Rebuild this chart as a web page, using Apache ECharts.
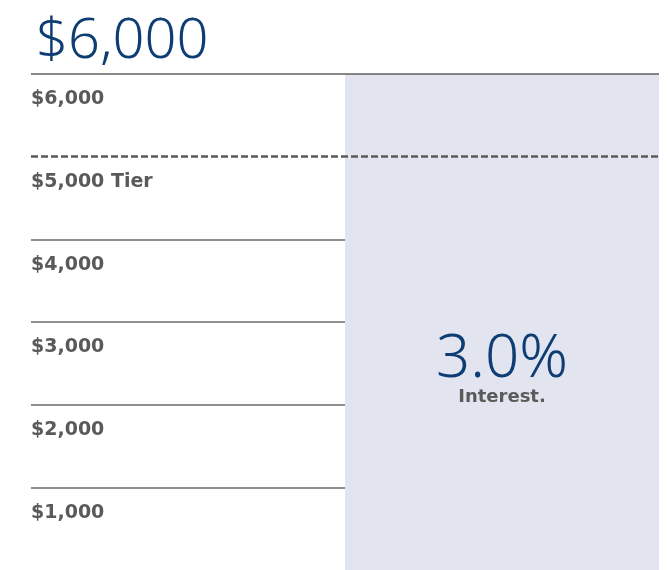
<!DOCTYPE html>
<html>
<head>
<meta charset="utf-8">
<script src="https://cdn.jsdelivr.net/npm/echarts@6/dist/echarts.min.js"></script>
<style>html,body{margin:0;padding:0;background:#fff}#c{width:668px;height:570px}</style>
</head>
<body>
<div id="c"></div>
<script>
const headline = '$6,000';
const categories = ['', 'Tier'];
const balances = ['-', 6000];
const tierValue = 5000;
const topValue = 6000;
const tickValues = [1000, 2000, 3000, 4000, 5000, 6000];
const tickLabels = ['$1,000', '$2,000', '$3,000', '$4,000', '$5,000 Tier', '$6,000'];
const rateText = '3.0%';
const rateCaption = 'Interest.';

const blue = '#0e3d74';
const gray = '#5a5a5a';

const chart = echarts.init(document.getElementById('c'), null, {renderer: 'canvas'});
chart.setOption({
  animation: false,
  title: {
    text: headline,
    left: 31, top: 9,
    textStyle: {fontFamily: 'Noto Sans', fontWeight: 300, fontSize: 56, color: blue}
  },
  grid: {left: 31, right: 9, top: 74, height: 499, containLabel: false},
  xAxis: {
    type: 'category', data: categories, show: false, boundaryGap: true
  },
  yAxis: {
    type: 'value', min: 0, max: 6000, interval: 1000,
    axisLine: {show: false}, axisTick: {show: false},
    axisLabel: {
      inside: true, margin: 0, verticalAlign: 'top', lineHeight: 17,
      fontFamily: 'DejaVu Sans', fontWeight: 'bold', fontSize: 19, color: gray,
      formatter: v => { const i = tickValues.indexOf(v); return i >= 0 ? '\n' + tickLabels[i] : ''; }
    },
    splitLine: {
      show: true,
      lineStyle: {width: 1.5, color: ['rgba(0,0,0,0)', '#6a6a6a', '#6a6a6a', '#6a6a6a', '#6a6a6a', 'rgba(0,0,0,0)', 'rgba(0,0,0,0)']}
    }
  },
  series: [{
    type: 'bar',
    data: balances,
    barWidth: '100%',
    barCategoryGap: '0%',
    itemStyle: {color: '#e2e5ef'},
    label: {
      show: true, position: 'inside', offset: [0, 49],
      formatter: () => '{a|' + rateText + '}\n{b|' + rateCaption + '}',
      rich: {
        a: {fontFamily: 'Noto Sans', fontWeight: 300, fontSize: 60, lineHeight: 52, color: blue, align: 'center'},
        b: {fontFamily: 'DejaVu Sans', fontWeight: 'bold', fontSize: 18, lineHeight: 22, color: gray, align: 'center'}
      }
    },
    markLine: {
      silent: true, symbol: 'none', z: 10, label: {show: false},
      data: [
        {yAxis: tierValue, lineStyle: {type: [7, 3], width: 2.5, color: '#5a5a5a'}},
        {yAxis: topValue, lineStyle: {type: 'solid', width: 1.5, color: '#5f5f5f'}}
      ]
    }
  }]
});
</script>
</body>
</html>
